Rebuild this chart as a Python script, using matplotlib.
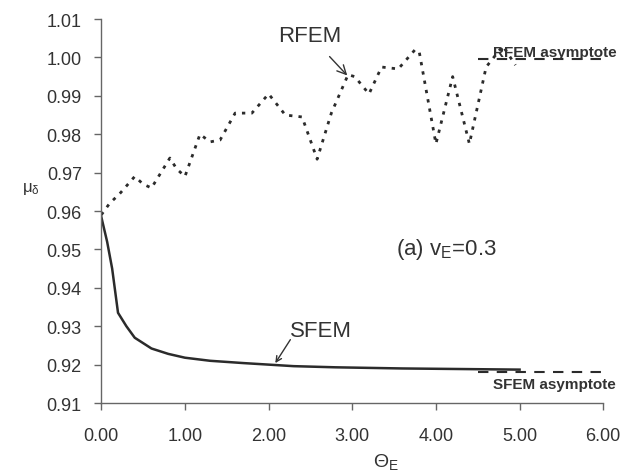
import matplotlib
matplotlib.use("Agg")
import matplotlib.pyplot as plt

plt.rcParams['font.family'] = ['Liberation Sans', 'DejaVu Sans']
plt.rcParams['mathtext.fontset'] = 'custom'
plt.rcParams['mathtext.rm'] = 'Liberation Sans'
plt.rcParams['mathtext.it'] = 'Liberation Sans'

rfem_x = [0.0, 0.1, 0.22, 0.4, 0.5, 0.6, 0.82, 0.9, 1.0, 1.18, 1.3, 1.42, 1.6, 1.8, 2.0,
          2.2, 2.4, 2.58, 2.75, 2.95, 3.03, 3.2, 3.35, 3.55, 3.75, 3.8, 4.0, 4.2, 4.4,
          4.6, 4.8, 4.95]
rfem_y = [0.959, 0.962, 0.9645, 0.969, 0.967, 0.966, 0.9738, 0.971, 0.969, 0.980, 0.978,
          0.9785, 0.9855, 0.9855, 0.9905, 0.985, 0.9845, 0.9735, 0.9855, 0.9955, 0.995,
          0.9905, 0.9975, 0.997, 1.002, 1.0015, 0.9775, 0.995, 0.9775, 0.9975, 1.003, 0.998]

sfem_x = [0.0, 0.07, 0.13, 0.2, 0.3, 0.4, 0.6, 0.8, 1.0, 1.3, 1.7, 2.0, 2.3, 2.8, 3.6, 5.0]
sfem_y = [0.9585, 0.952, 0.945, 0.9335, 0.930, 0.927, 0.9242, 0.9228, 0.9218, 0.921,
          0.9204, 0.920, 0.9196, 0.9193, 0.919, 0.9187]

asym_x = [4.5, 6.0]
rfem_asym = [0.9995, 0.9995]
sfem_asym = [0.918, 0.918]

xticks = [0, 1, 2, 3, 4, 5, 6]
yticks = [0.91, 0.92, 0.93, 0.94, 0.95, 0.96, 0.97, 0.98, 0.99, 1.00, 1.01]

fig = plt.figure(figsize=(6.33, 4.77), dpi=100)
ax = fig.add_axes([0.16, 0.153, 0.793, 0.805])

line_col = '#2b2b2b'
ax.plot(rfem_x, rfem_y, color=line_col, lw=2.0, linestyle=(0, (1.2, 2.2)))
ax.plot(sfem_x, sfem_y, color=line_col, lw=1.8)
ax.plot(asym_x, rfem_asym, color=line_col, lw=1.5, linestyle=(0, (5, 4)))
ax.plot(asym_x, sfem_asym, color=line_col, lw=1.5, linestyle=(0, (5, 4)))

ax.set_xlim(0, 6)
ax.set_ylim(0.91, 1.01)
ax.set_xticks(xticks)
ax.set_xticklabels([f'{v:.2f}' for v in xticks])
ax.set_yticks(yticks)
ax.set_yticklabels([f'{v:.2f}' for v in yticks])

for s in ['top', 'right']:
    ax.spines[s].set_visible(False)
for s in ['left', 'bottom']:
    ax.spines[s].set_color('#666666')
    ax.spines[s].set_linewidth(1.0)
ax.tick_params(axis='both', direction='out', length=5, width=1.0, color='#666666',
               labelsize=13, labelcolor='#333333')
ax.tick_params(axis='x', pad=12)
ax.tick_params(axis='y', pad=9)

ax.set_xlabel(r'$\Theta_E$', fontsize=14, color='#333333')
ax.xaxis.set_label_coords(0.567, -0.125)
ax.set_ylabel(r'$\mu_\delta$', fontsize=12, color='#333333', rotation=0)
ax.yaxis.set_label_coords(-0.14, 0.54)

ax.annotate('RFEM', xy=(2.94, 0.9953), xytext=(2.49, 1.0058), fontsize=16,
            color='#333333', ha='center', va='center',
            arrowprops=dict(arrowstyle='->', color='#333333', lw=1.0, shrinkA=8, shrinkB=0))
ax.text(2.62, 0.9288, 'SFEM', fontsize=16, color='#333333', ha='center', va='center')
ax.annotate('', xy=(2.08, 0.9204), xytext=(2.26, 0.9265),
            arrowprops=dict(arrowstyle='->', color='#333333', lw=1.0, shrinkA=0, shrinkB=0))

ax.text(4.13, 0.9503, r'(a) v$_E$=0.3', fontsize=16, color='#333333', ha='center', va='center')
ax.text(5.42, 1.0015, 'RFEM asymptote', fontsize=11, fontweight='bold', color='#333333',
        family=['Liberation Sans Narrow', 'Liberation Sans'],
        ha='center', va='center', clip_on=False)
ax.text(5.42, 0.915, 'SFEM asymptote', fontsize=11, fontweight='bold', color='#333333',
        family=['Liberation Sans Narrow', 'Liberation Sans'],
        ha='center', va='center', clip_on=False)

fig.savefig('out.png', dpi=100)
